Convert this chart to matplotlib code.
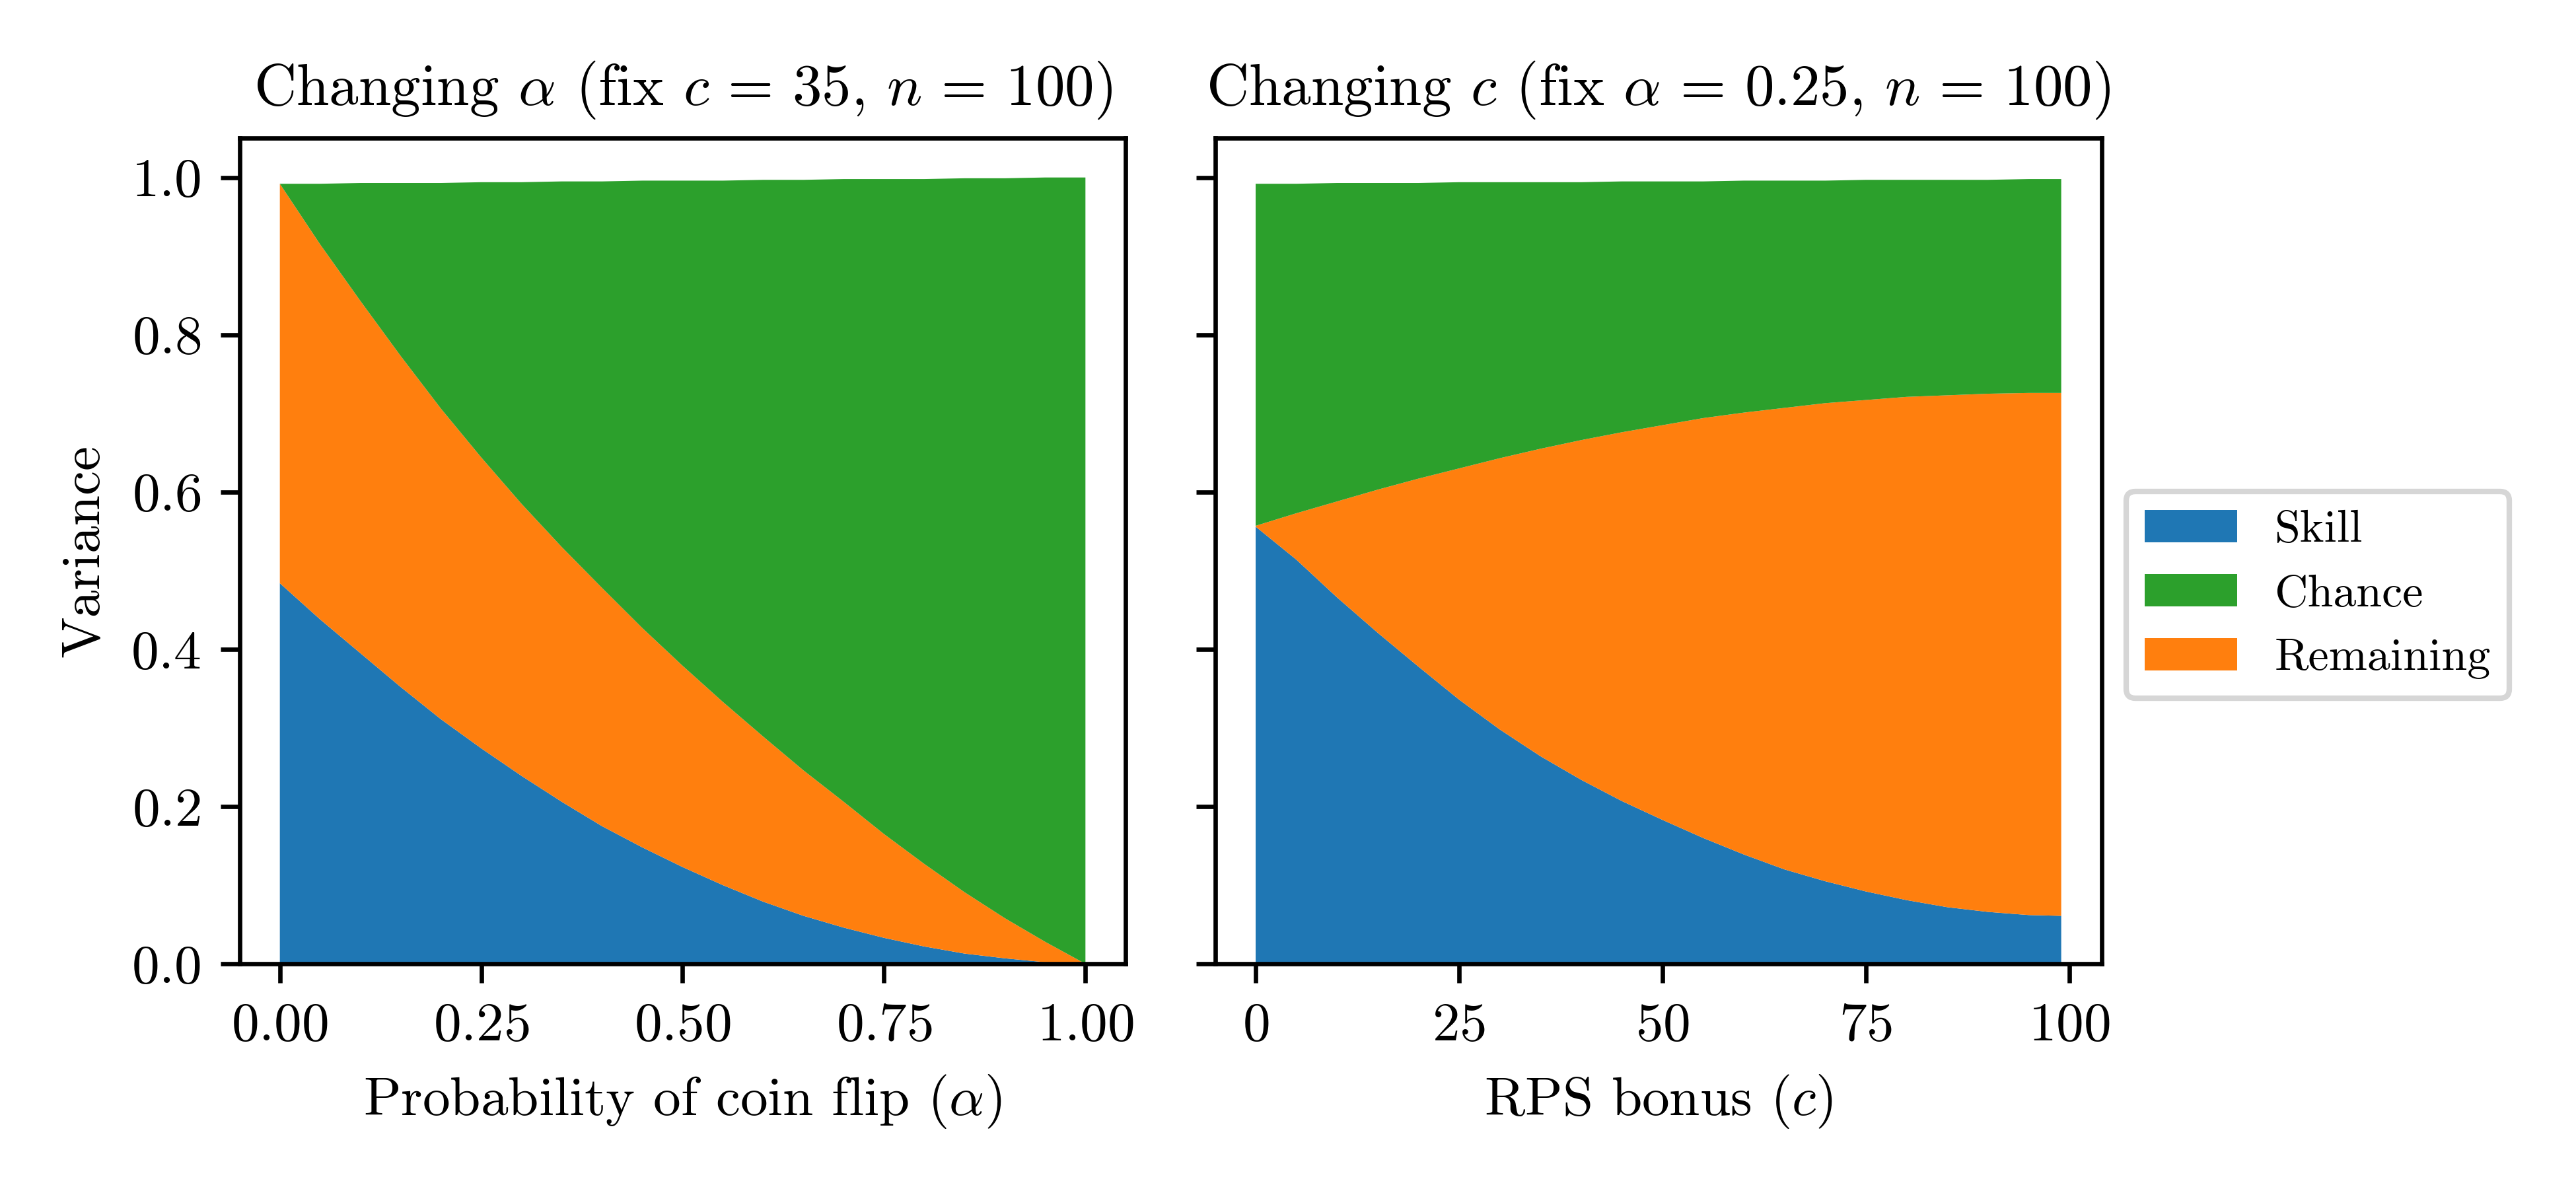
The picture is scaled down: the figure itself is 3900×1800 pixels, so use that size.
# variance decomposition: skill / chance / remaining
import matplotlib.pyplot as plt

plt.rcParams['font.family'] = 'serif'
plt.rcParams['font.serif'] = ['cmr10']
plt.rcParams['mathtext.fontset'] = 'cm'
plt.rcParams['axes.formatter.use_mathtext'] = True
plt.rcParams['font.size'] = 10

# left panel: changing alpha (c = 35, n = 100)
alpha = [0.00, 0.05, 0.10, 0.15, 0.20, 0.25, 0.30, 0.35, 0.40, 0.45, 0.50,
         0.55, 0.60, 0.65, 0.70, 0.75, 0.80, 0.85, 0.90, 0.95, 1.00]
skill_a = [0.484, 0.438, 0.395, 0.352, 0.311, 0.274, 0.239, 0.206, 0.175, 0.148, 0.123,
           0.100, 0.079, 0.061, 0.046, 0.033, 0.022, 0.013, 0.007, 0.002, 0.000]
remaining_a = [0.508, 0.477, 0.448, 0.421, 0.395, 0.370, 0.346, 0.324, 0.303, 0.279, 0.256,
               0.233, 0.210, 0.185, 0.160, 0.132, 0.105, 0.078, 0.051, 0.026, 0.000]
chance_a = [0.000, 0.077, 0.150, 0.220, 0.287, 0.350, 0.409, 0.465, 0.517, 0.569, 0.617,
            0.663, 0.708, 0.751, 0.792, 0.833, 0.871, 0.908, 0.941, 0.972, 1.000]

# right panel: changing c (alpha = 0.25, n = 100)
bonus = [0, 5, 10, 15, 20, 25, 30, 35, 40, 45, 50, 55, 60, 65, 70, 75, 80, 85, 90, 95, 99]
skill_c = [0.556, 0.514, 0.466, 0.421, 0.378, 0.336, 0.298, 0.264, 0.234, 0.207, 0.183,
           0.160, 0.139, 0.120, 0.105, 0.092, 0.081, 0.072, 0.066, 0.062, 0.061]
remaining_c = [0.001, 0.059, 0.122, 0.182, 0.239, 0.294, 0.345, 0.391, 0.432, 0.469, 0.502,
               0.534, 0.562, 0.587, 0.608, 0.625, 0.640, 0.651, 0.659, 0.664, 0.665]
chance_c = [0.435, 0.419, 0.405, 0.390, 0.376, 0.364, 0.351, 0.339, 0.328, 0.319, 0.310,
            0.301, 0.295, 0.289, 0.283, 0.280, 0.276, 0.274, 0.272, 0.272, 0.272]

colors = ['#1f77b4', '#ff7f0e', '#2ca02c']  # skill, remaining, chance
labels = ['Skill', 'Remaining', 'Chance']

fig = plt.figure(figsize=(6.5, 3), dpi=600)
ax1 = fig.add_axes([0.093, 0.1894, 0.344, 0.6944])
ax2 = fig.add_axes([0.4718, 0.1894, 0.344, 0.6944], sharey=ax1)

polys = ax1.stackplot(alpha, skill_a, remaining_a, chance_a, colors=colors, labels=labels)
ax1.set_title(r'Changing $\alpha$ (fix $c \,=\, 35$, $n \,=\, 100$)', fontsize=10.7)
ax1.set_xlabel(r'Probability of coin flip ($\alpha$)')
ax1.set_ylabel('Variance')
ax1.set_xticks([0, 0.25, 0.5, 0.75, 1.0])

ax2.stackplot(bonus, skill_c, remaining_c, chance_c, colors=colors, labels=labels)
ax2.set_title(r'Changing $c$ (fix $\alpha \,=\, 0.25$, $n \,=\, 100$)', fontsize=10.7)
ax2.set_xlabel(r'RPS bonus ($c$)')
ax2.set_xticks([0, 25, 50, 75, 100])
ax2.tick_params(labelleft=False)

# legend order differs from stacking order
fig.legend(handles=[polys[0], polys[2], polys[1]], labels=['Skill', 'Chance', 'Remaining'],
           loc='center right', bbox_to_anchor=(0.983, 0.5), fontsize=8.4)

plt.savefig('out.png', dpi=600)
